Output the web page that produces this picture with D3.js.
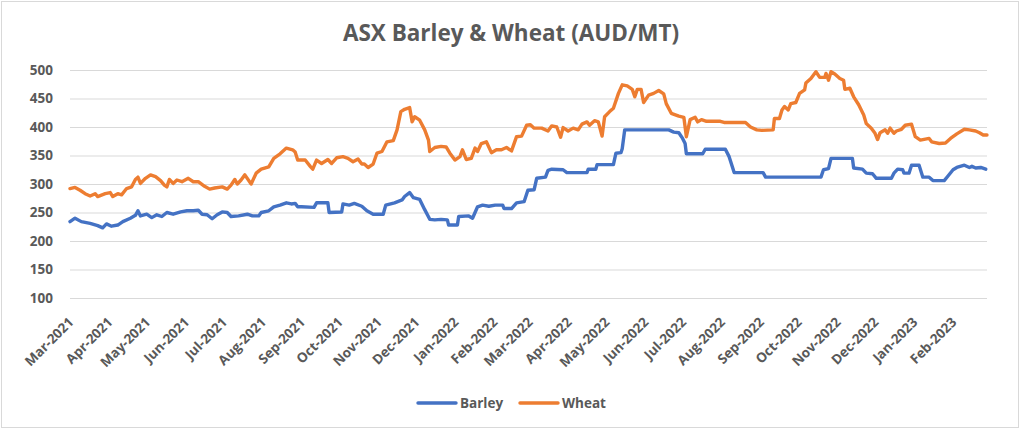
<!DOCTYPE html>
<html><head><meta charset="utf-8">
<script src="https://cdn.jsdelivr.net/npm/d3@7"></script>
<style>
html,body{margin:0;padding:0;background:#fff;}
svg{display:block;font-family:"Open Sans",sans-serif;}
</style></head>
<body>
<svg id="c" width="1024" height="433"></svg>
<script>
const title = "ASX Barley & Wheat (AUD/MT)";
const seriesNames = ["Barley", "Wheat"];
const yTicks = [100,150,200,250,300,350,400,450,500];
const monthLabels = ["Mar-2021","Apr-2021","May-2021","Jun-2021","Jul-2021","Aug-2021","Sep-2021","Oct-2021","Nov-2021","Dec-2021","Jan-2022","Feb-2022","Mar-2022","Apr-2022","May-2022","Jun-2022","Jul-2022","Aug-2022","Sep-2022","Oct-2022","Nov-2022","Dec-2022","Jan-2023","Feb-2023"];
const axisStart = "2021-03-01", axisEnd = "2023-02-28";

const barleyDates = ["2021-03-01","2021-03-05","2021-03-10","2021-03-17","2021-03-23","2021-03-27","2021-03-30","2021-04-03","2021-04-08","2021-04-12","2021-04-18","2021-04-22","2021-04-24","2021-04-26","2021-05-01","2021-05-05","2021-05-09","2021-05-13","2021-05-17","2021-05-22","2021-05-28","2021-06-02","2021-06-07","2021-06-11","2021-06-14","2021-06-18","2021-06-22","2021-06-26","2021-06-30","2021-07-04","2021-07-07","2021-07-13","2021-07-20","2021-07-24","2021-07-29","2021-07-31","2021-08-06","2021-08-10","2021-08-15","2021-08-20","2021-08-24","2021-08-27","2021-08-29","2021-09-01","2021-09-11","2021-09-13","2021-09-22","2021-09-23","2021-10-03","2021-10-04","2021-10-09","2021-10-13","2021-10-19","2021-10-23","2021-10-28","2021-11-05","2021-11-07","2021-11-14","2021-11-20","2021-11-22","2021-11-26","2021-11-29","2021-12-04","2021-12-08","2021-12-12","2021-12-16","2021-12-21","2021-12-26","2021-12-27","2022-01-03","2022-01-04","2022-01-12","2022-01-15","2022-01-19","2022-01-23","2022-01-28","2022-02-02","2022-02-08","2022-02-09","2022-02-15","2022-02-19","2022-02-25","2022-02-28","2022-03-05","2022-03-07","2022-03-14","2022-03-16","2022-03-19","2022-03-28","2022-03-31","2022-04-16","2022-04-17","2022-04-23","2022-04-24","2022-05-07","2022-05-09","2022-05-13","2022-05-14","2022-05-16","2022-06-20","2022-06-24","2022-06-28","2022-07-01","2022-07-03","2022-07-04","2022-07-17","2022-07-19","2022-08-04","2022-08-07","2022-08-11","2022-09-03","2022-09-05","2022-10-19","2022-10-21","2022-10-25","2022-10-27","2022-11-13","2022-11-14","2022-11-21","2022-11-24","2022-11-29","2022-12-02","2022-12-14","2022-12-16","2022-12-19","2022-12-23","2022-12-24","2022-12-28","2022-12-30","2023-01-05","2023-01-08","2023-01-13","2023-01-16","2023-01-25","2023-01-28","2023-02-01","2023-02-04","2023-02-10","2023-02-14","2023-02-16","2023-02-19","2023-02-23","2023-02-27"];
const barleyValues = [234,240,234,231,227,223,230,226,228,234,240,245,253,244,247,241,246,243,250,247,251,253,253,254,247,246,239,246,251,250,243,244,247,244,244,250,253,260,263,267,265,266,260,260,259,267,267,250,251,265,263,266,261,253,247,247,263,267,272,278,285,276,273,255,238,237,238,237,228,228,243,244,240,260,263,261,263,263,257,257,267,269,289,290,310,312,324,326,325,320,320,326,326,334,334,354,355,362,395,395,391,390,380,371,353,353,361,361,348,320,320,312,312,325,327,345,345,328,326,319,318,310,310,319,326,325,319,319,333,333,312,312,306,306,314,325,329,333,329,331,328,329,326];

const wheatDates = ["2021-03-01","2021-03-05","2021-03-09","2021-03-13","2021-03-17","2021-03-21","2021-03-23","2021-03-29","2021-04-02","2021-04-04","2021-04-08","2021-04-11","2021-04-15","2021-04-19","2021-04-22","2021-04-24","2021-04-26","2021-04-30","2021-05-04","2021-05-08","2021-05-12","2021-05-15","2021-05-17","2021-05-19","2021-05-22","2021-05-25","2021-05-29","2021-06-03","2021-06-07","2021-06-11","2021-06-16","2021-06-20","2021-06-24","2021-06-30","2021-07-04","2021-07-07","2021-07-10","2021-07-12","2021-07-15","2021-07-18","2021-07-23","2021-07-27","2021-07-31","2021-08-06","2021-08-10","2021-08-15","2021-08-20","2021-08-25","2021-08-27","2021-08-29","2021-09-04","2021-09-08","2021-09-10","2021-09-13","2021-09-17","2021-09-22","2021-09-25","2021-09-29","2021-10-04","2021-10-08","2021-10-12","2021-10-16","2021-10-19","2021-10-21","2021-10-24","2021-10-28","2021-10-31","2021-11-04","2021-11-08","2021-11-13","2021-11-16","2021-11-19","2021-11-22","2021-11-26","2021-11-28","2021-11-30","2021-12-04","2021-12-08","2021-12-11","2021-12-12","2021-12-16","2021-12-21","2021-12-25","2021-12-28","2022-01-01","2022-01-05","2022-01-07","2022-01-10","2022-01-14","2022-01-17","2022-01-19","2022-01-22","2022-01-26","2022-01-30","2022-02-03","2022-02-07","2022-02-11","2022-02-15","2022-02-19","2022-02-23","2022-02-27","2022-03-02","2022-03-05","2022-03-11","2022-03-16","2022-03-19","2022-03-23","2022-03-26","2022-03-28","2022-04-01","2022-04-05","2022-04-09","2022-04-12","2022-04-16","2022-04-18","2022-04-22","2022-04-25","2022-04-28","2022-04-30","2022-05-04","2022-05-07","2022-05-11","2022-05-14","2022-05-18","2022-05-22","2022-05-24","2022-05-26","2022-05-29","2022-05-31","2022-06-04","2022-06-08","2022-06-12","2022-06-16","2022-06-18","2022-06-22","2022-06-28","2022-07-02","2022-07-04","2022-07-07","2022-07-11","2022-07-13","2022-07-16","2022-07-20","2022-07-31","2022-08-03","2022-08-20","2022-08-24","2022-08-29","2022-09-02","2022-09-11","2022-09-12","2022-09-16","2022-09-18","2022-09-20","2022-09-23","2022-09-25","2022-09-29","2022-10-02","2022-10-06","2022-10-07","2022-10-11","2022-10-15","2022-10-18","2022-10-22","2022-10-23","2022-10-25","2022-10-27","2022-10-30","2022-11-03","2022-11-06","2022-11-07","2022-11-11","2022-11-14","2022-11-18","2022-11-22","2022-11-24","2022-11-28","2022-12-01","2022-12-03","2022-12-05","2022-12-09","2022-12-11","2022-12-13","2022-12-16","2022-12-18","2022-12-22","2022-12-25","2022-12-30","2023-01-02","2023-01-06","2023-01-13","2023-01-15","2023-01-21","2023-01-26","2023-01-30","2023-02-04","2023-02-10","2023-02-14","2023-02-19","2023-02-22","2023-02-25","2023-02-28"];
const wheatValues = [292,294,289,283,279,283,278,283,285,278,283,281,292,295,308,312,301,310,316,313,306,298,295,308,301,307,304,310,304,304,296,291,293,295,291,298,308,300,307,316,300,319,326,330,345,353,363,360,356,342,342,331,326,342,336,343,336,346,348,345,339,344,335,335,329,335,354,357,374,376,395,427,431,434,409,418,412,395,377,357,364,366,365,354,342,348,360,343,345,363,357,371,374,355,360,360,364,358,383,384,403,404,398,398,393,402,400,382,399,393,398,395,405,409,403,411,409,384,418,427,433,459,474,472,466,453,466,466,443,456,459,464,458,441,424,419,417,383,413,417,409,413,410,410,408,408,400,395,394,395,415,415,430,436,430,441,443,459,465,477,485,497,487,487,494,482,497,493,485,482,466,468,453,439,421,406,398,389,378,390,395,389,398,389,393,396,403,405,383,377,380,374,371,372,380,388,396,395,393,390,386,386];

const colors = {Barley:"#4472C4", Wheat:"#ED7D31"};
const textColor = "#595959", gridColor = "#d9d9d9";

const parse = d3.timeParse("%Y-%m-%d");
const parseMonth = d3.timeParse("%b-%Y");
const fmtMonth = d3.timeFormat("%b-%Y");

const svg = d3.select("#c");
const W = 1024, H = 433;
const m = {left:70, right:37, top:70, bottom:135};

svg.append("rect").attr("x",1.5).attr("y",1.5).attr("width",1017).attr("height",426)
  .attr("fill","#fff").attr("stroke",gridColor).attr("stroke-width",1);

const x = d3.scaleTime().domain([parse(axisStart), parse(axisEnd)]).range([m.left, W - m.right]);
const y = d3.scaleLinear().domain([100, 500]).range([H - m.bottom, m.top]);

// title
svg.append("text").attr("x", 511).attr("y", 41).attr("text-anchor","middle")
  .attr("fill", textColor).attr("font-size", 22.5).attr("font-weight", 700).text(title);

// y axis + grid
const yAxis = svg.append("g").attr("transform", `translate(${m.left},0)`)
  .call(d3.axisLeft(y).tickValues(yTicks).tickSize(-(W - m.right - m.left)).tickPadding(17));
yAxis.select(".domain").remove();
yAxis.selectAll(".tick line").attr("stroke", gridColor).attr("stroke-width", 1.2);
yAxis.selectAll(".tick text").attr("fill", textColor).attr("font-size", 13.5)
  .attr("font-weight", 700).attr("font-family", "'Open Sans', sans-serif");

// x axis
const xAxis = svg.append("g").attr("transform", `translate(0,${H - m.bottom})`)
  .call(d3.axisBottom(x).tickValues(monthLabels.map(parseMonth)).tickFormat(fmtMonth).tickSize(0));
xAxis.select(".domain").remove();
xAxis.selectAll(".tick text")
  .attr("fill", textColor).attr("font-size", 13.5).attr("font-weight", 700)
  .attr("font-family", "'Open Sans', sans-serif")
  .attr("text-anchor", "end").attr("dy", 0)
  .attr("transform", "translate(4,25) rotate(-45)")
  .attr("y", 0);

// lines
const line = d3.line().x(d => x(d.date)).y(d => y(d.value));
const series = [
  {name:"Barley", data: barleyDates.map((d,i) => ({date: parse(d), value: barleyValues[i]}))},
  {name:"Wheat", data: wheatDates.map((d,i) => ({date: parse(d), value: wheatValues[i]}))}
];
svg.append("g").selectAll("path").data(series).join("path")
  .attr("d", d => line(d.data)).attr("fill","none")
  .attr("stroke", d => colors[d.name]).attr("stroke-width", 3.4)
  .attr("stroke-linejoin","round").attr("stroke-linecap","round");

// legend
const legendX = [418, 520];
const lg = svg.append("g").selectAll("g").data(seriesNames).join("g")
  .attr("transform", (d,i) => `translate(${legendX[i]},403)`);
lg.append("line").attr("x1",0).attr("x2",38).attr("y1",0).attr("y2",0)
  .attr("stroke", d => colors[d]).attr("stroke-width", 3.4).attr("stroke-linecap","round");
lg.append("text").attr("x", 42).attr("y", 5).attr("fill", textColor)
  .attr("font-size", 13.5).attr("font-weight", 700).text(d => d);
</script>
</body></html>
